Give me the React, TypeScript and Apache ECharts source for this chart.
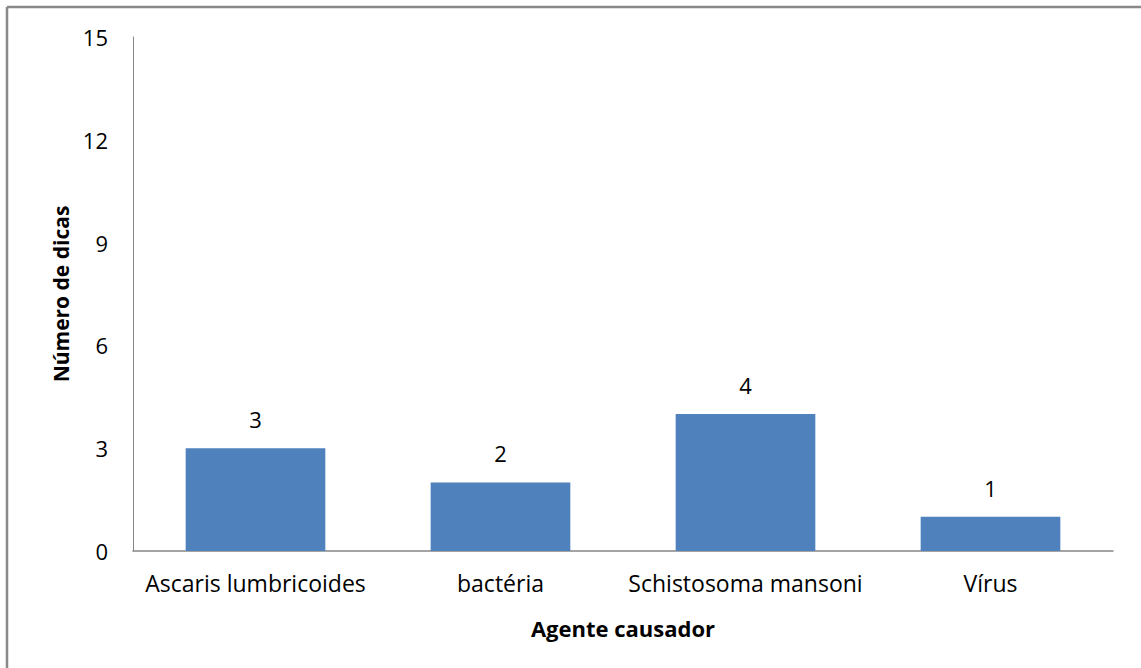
import React, { useEffect, useRef } from "react";
import * as echarts from "echarts";

const categories = ["Ascaris lumbricoides", "bactéria", "Schistosoma mansoni", "Vírus"];
const values = [3, 2, 4, 1];
const yTicks = [0, 3, 6, 9, 12, 15];
const xTitle = "Agente causador";
const yTitle = "Número de dicas";

const FONT = "'Open Sans', 'Noto Sans', sans-serif";

export default function App() {
  const ref = useRef<HTMLDivElement>(null);
  useEffect(() => {
    if (!ref.current) return;
    const chart = echarts.init(ref.current, null, { renderer: "svg" });
    chart.setOption({
      animation: false,
      backgroundColor: "#ffffff",
      grid: { left: 133, top: 37, right: 28, bottom: 117, containLabel: false },
      graphic: [
        { type: "line", shape: { x1: 7, y1: 7, x2: 1141, y2: 7 }, style: { stroke: "#898989", lineWidth: 2.5 } },
        { type: "line", shape: { x1: 7, y1: 7, x2: 7, y2: 668 }, style: { stroke: "#898989", lineWidth: 2.5 } },
      ],
      xAxis: {
        type: "category",
        data: categories,
        name: xTitle,
        nameLocation: "middle",
        nameGap: 66,
        nameTextStyle: { fontFamily: FONT, fontSize: 22, fontWeight: "bold", color: "#000" },
        axisLine: { lineStyle: { color: "#868686", width: 1.5 } },
        axisTick: { show: false },
        axisLabel: { fontFamily: FONT, fontSize: 23, color: "#000", margin: 20, interval: 0 },
      },
      yAxis: {
        type: "value",
        min: yTicks[0],
        max: yTicks[yTicks.length - 1],
        interval: 3,
        name: yTitle,
        nameLocation: "middle",
        nameGap: 62,
        nameRotate: 90,
        nameTextStyle: { fontFamily: FONT, fontSize: 21, fontWeight: "bold", color: "#000" },
        axisLine: { show: true, lineStyle: { color: "#868686", width: 1 } },
        axisTick: { show: false },
        splitLine: { show: false },
        axisLabel: { fontFamily: FONT, fontSize: 22, color: "#000", margin: 25 },
      },
      series: [
        {
          type: "bar",
          data: values,
          barWidth: "57%",
          itemStyle: { color: "#4F81BD" },
          label: { show: true, position: "top", distance: 18, fontFamily: FONT, fontSize: 22, color: "#000" },
        },
      ],
    });
    return () => chart.dispose();
  }, []);
  return (
    <div
      ref={ref}
      style={{ position: "fixed", left: 0, top: 0, width: 1141, height: 668 }}
    />
  );
}
